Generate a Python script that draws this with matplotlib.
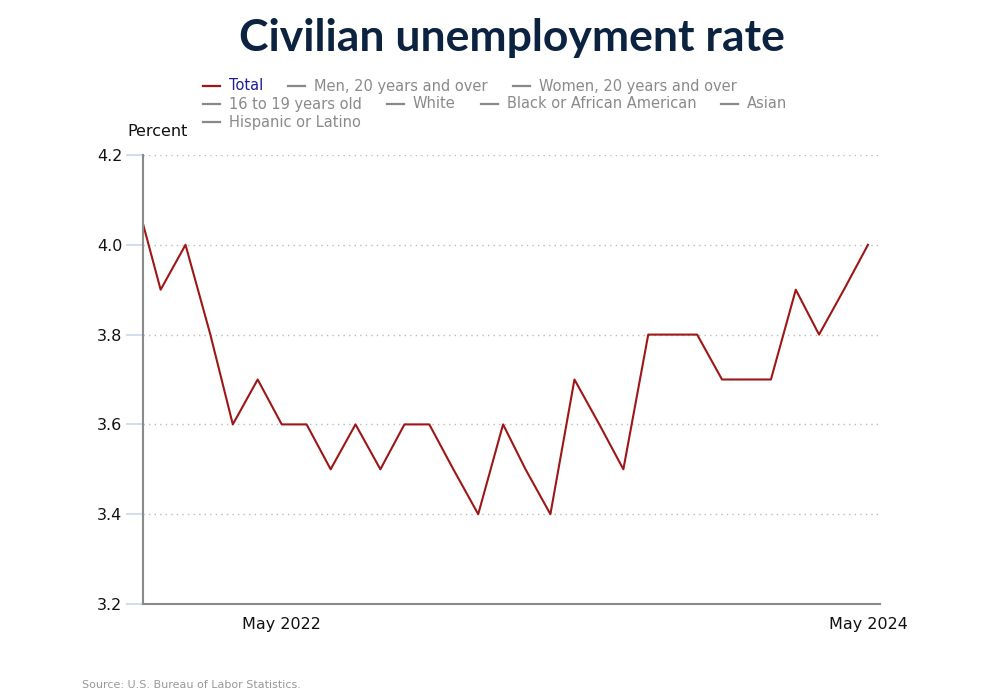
import numpy as np
import pandas as pd
import matplotlib.pyplot as plt
import matplotlib.dates as mdates
from matplotlib.lines import Line2D

# monthly civilian unemployment rate, Nov 2021 - May 2024
months = pd.date_range('2021-11-01', '2024-05-01', freq='MS')
rate = [4.1, 3.9, 4.0, 3.8, 3.6, 3.7, 3.6, 3.6, 3.5, 3.6, 3.5, 3.6,
        3.6, 3.5, 3.4, 3.6, 3.5, 3.4, 3.7, 3.6, 3.5, 3.8, 3.8, 3.8,
        3.7, 3.7, 3.7, 3.9, 3.8, 3.9, 4.0]

legend_names = ['Total', 'Men, 20 years and over', 'Women, 20 years and over',
                '16 to 19 years old', 'White', 'Black or African American',
                'Asian', 'Hispanic or Latino']
x_ticks = ['2022-05-01', '2024-05-01']
y_ticks = [3.2, 3.4, 3.6, 3.8, 4.0, 4.2]

W, H = 1000, 700
fig = plt.figure(figsize=(10, 7), dpi=100)
ax = fig.add_axes([143 / W, 1 - 604 / H, (880 - 143) / W, (604 - 155) / H])

red = '#9e1616'
ax.plot(months, rate, color=red, lw=1.5, clip_on=True)

ax.set_xlim(pd.Timestamp('2021-11-09'), pd.Timestamp('2024-05-16'))
ax.set_ylim(3.2, 4.2)
ax.set_yticks(y_ticks)
ax.set_yticklabels([f'{v:.1f}' for v in y_ticks], fontsize=11.5, color='#111111')
ax.set_xticks([pd.Timestamp(d) for d in x_ticks])
ax.xaxis.set_major_formatter(mdates.DateFormatter('%b %Y'))
ax.tick_params(axis='x', length=0, labelsize=11.5, pad=9, labelcolor='#111111')
ax.tick_params(axis='y', length=12, width=1.2, color='#ccd6eb', pad=3)

for v in y_ticks[1:]:
    ax.axhline(v, color='#bbbbbb', lw=1, ls=(0, (1, 3)), zorder=0)

for s in ['top', 'right']:
    ax.spines[s].set_visible(False)
for s in ['left', 'bottom']:
    ax.spines[s].set_color('#8a8a8a')
    ax.spines[s].set_linewidth(1.5)

fig.text(512 / W, 1 - 38 / H, 'Civilian unemployment rate', ha='center', va='center',
         fontsize=32, fontweight='bold', family='Lato', color='#0b2240')
fig.text(127 / W, 1 - 131 / H, 'Percent', ha='left', va='center', fontsize=11.5,
         color='#111111')
fig.text(82 / W, 1 - 685 / H, 'Source: U.S. Bureau of Labor Statistics.', ha='left',
         va='center', fontsize=8, color='#999999')

# flowing legend
fig.canvas.draw()
renderer = fig.canvas.get_renderer()
x0, x, y = 203, 203, 86
for i, name in enumerate(legend_names):
    lc = red if i == 0 else '#888888'
    tc = '#1c1c9c' if i == 0 else '#8a8a8a'
    t = fig.text(0, 0, name, fontsize=10.5, color=tc, va='center', ha='left')
    tw = t.get_window_extent(renderer).width
    if x + 26 + tw > 800 and x > x0:
        x, y = x0, y + 18
    fig.add_artist(Line2D([x / W, (x + 17) / W], [1 - y / H, 1 - y / H],
                          color=lc, lw=1.6, transform=fig.transFigure))
    t.set_position(((x + 26) / W, 1 - y / H))
    x += 26 + tw + 25

fig.savefig('out.png', dpi=100)
